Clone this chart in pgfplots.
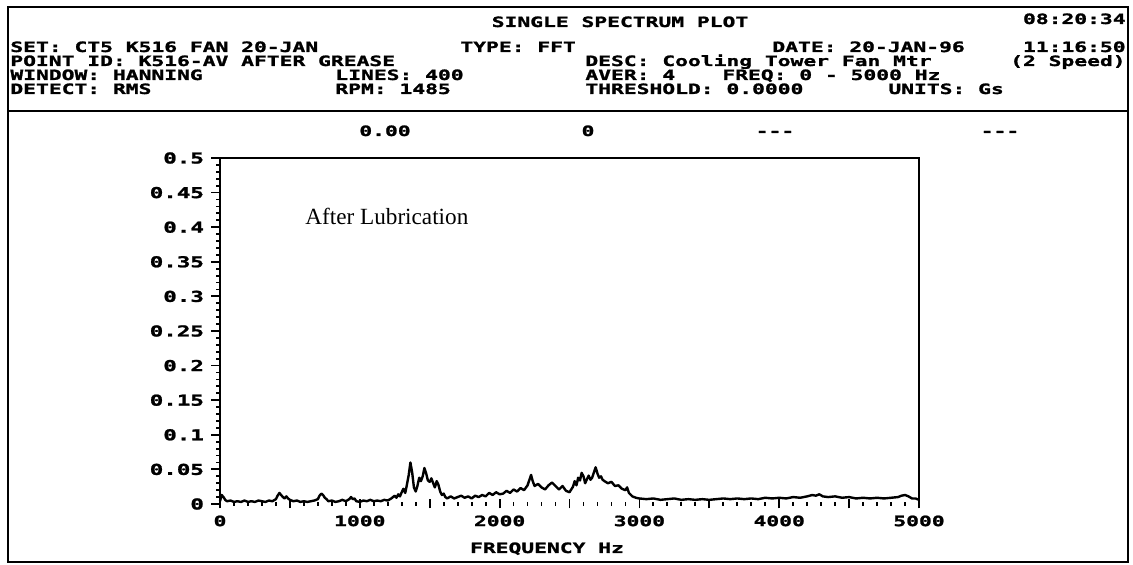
\documentclass[border=0pt]{standalone}
\usepackage{pgfplots}
\pgfplotsset{compat=1.18}
\usepackage{fontspec}
\setmainfont{Liberation Serif}
\newfontfamily\px[FakeStretch=1.5,FakeBold=1.5]{DejaVu Sans Mono}
\newcommand\hf{\px\bfseries\fontsize{7.1pt}{8pt}\selectfont}
\newcommand\tf{\px\bfseries\fontsize{7.5pt}{8pt}\selectfont}
\begin{document}
\begin{tikzpicture}
\path[use as bounding box] (0,0) rectangle (566.5pt,282.5pt);
\begin{scope}[x=0.5pt,y=-0.5pt,yshift=282.5pt]
\draw[line width=1.1pt] (8,7) rectangle (1128,562);
\draw[line width=0.9pt] (8,111) -- (1128,111);
\tikzset{h/.style={anchor=base west,inner sep=0pt,font=\hf},hr/.style={anchor=base east,inner sep=0pt,font=\hf}}
\node[anchor=base,inner sep=0pt,font=\hf] at (620,27) {SINGLE SPECTRUM PLOT};
\node[hr] at (1126,24) {08:20:34};
% row 1
\node[h] at (10,52) {SET: CT5 K516 FAN 20-JAN};
\node[h] at (460,52) {TYPE: FFT};
\node[h] at (772,52) {DATE: 20-JAN-96};
\node[hr] at (1126,52) {11:16:50};
% row 2
\node[h] at (10,66) {POINT ID: K516-AV AFTER GREASE};
\node[h] at (585,66) {DESC: Cooling Tower Fan Mtr};
\node[hr] at (1126,66) {(2 Speed)};
% row 3
\node[h] at (10,80) {WINDOW: HANNING};
\node[h] at (335,80) {LINES: 400};
\node[h] at (585,80) {AVER: 4};
\node[h] at (722,80) {FREQ: 0 - 5000 Hz};
% row 4
\node[h] at (10,94) {DETECT: RMS};
\node[h] at (335,94) {RPM: 1485};
\node[h] at (585,94) {THRESHOLD: 0.0000};
\node[h] at (888,94) {UNITS: Gs};
% label row
\node[anchor=base,inner sep=0pt,font=\hf] at (385,136) {0.00};
\node[anchor=base,inner sep=0pt,font=\hf] at (588,136) {0};
\node[anchor=base,inner sep=0pt,font=\hf] at (775,136) {---};
\node[anchor=base,inner sep=0pt,font=\hf] at (1000,136) {---};
% x label
\node[anchor=base,inner sep=0pt,font=\hf] at (547,553) {FREQUENCY Hz};
\end{scope}
\begin{axis}[
  at={(110pt,30.5pt)}, anchor=south west,
  scale only axis, width=349.5pt, height=173pt,
  xmin=0, xmax=5000, ymin=0, ymax=0.5,
  axis line style={draw=none},
  xtick={0,500,...,5000},
  xticklabels={0,,1000,,2000,,3000,,4000,,5000},
  minor x tick num=4,
  ytick={0,0.05,...,0.5},
  yticklabels={0,0.05,0.1,0.15,0.2,0.25,0.3,0.35,0.4,0.45,0.5},
  minor y tick num=4,
  xtick pos=bottom, ytick pos=left,
  xtick align=center, ytick align=outside,
  major tick length=4.5pt, minor tick length=1.8pt,
  every tick/.style={black,line width=0.9pt},
  xticklabel style={font=\hf},
  yticklabel style={font=\tf},
  /pgf/number format/assume math mode=true,
  clip=false,
]
\draw[line width=1.3pt] (rel axis cs:0,0) -- (rel axis cs:0,1) -- (rel axis cs:1,1) -- (rel axis cs:1,0);
\addplot[black, line width=1.2pt, line join=round] table {
f v
0 0.004
12 0.013
25 0.010
37 0.006
50 0.004
75 0.005
100 0.003
125 0.004
150 0.003
175 0.005
200 0.003
225 0.004
250 0.003
275 0.005
300 0.004
325 0.003
350 0.005
375 0.004
400 0.007
412 0.012
425 0.016
437 0.013
450 0.010
462 0.008
475 0.011
487 0.008
500 0.006
525 0.004
550 0.005
575 0.003
600 0.004
625 0.003
650 0.004
675 0.005
700 0.007
712 0.012
725 0.015
737 0.013
750 0.009
762 0.007
775 0.004
800 0.005
825 0.003
850 0.004
875 0.006
900 0.004
925 0.007
937 0.010
950 0.007
962 0.008
975 0.004
1000 0.003
1025 0.005
1050 0.004
1075 0.006
1100 0.004
1125 0.005
1150 0.004
1175 0.006
1200 0.005
1225 0.008
1250 0.012
1262 0.009
1275 0.014
1287 0.011
1300 0.017
1312 0.022
1325 0.016
1337 0.028
1350 0.042
1362 0.060
1375 0.045
1387 0.024
1400 0.018
1412 0.026
1425 0.038
1437 0.033
1450 0.040
1462 0.052
1475 0.044
1487 0.034
1500 0.032
1512 0.037
1525 0.030
1537 0.024
1550 0.033
1562 0.028
1575 0.018
1587 0.013
1600 0.015
1612 0.010
1625 0.008
1650 0.011
1675 0.008
1700 0.010
1725 0.012
1750 0.009
1775 0.011
1800 0.008
1825 0.012
1850 0.010
1875 0.013
1900 0.011
1925 0.016
1950 0.013
1975 0.017
2000 0.014
2025 0.015
2050 0.019
2075 0.016
2100 0.021
2125 0.018
2150 0.023
2175 0.020
2200 0.027
2225 0.042
2237 0.033
2250 0.026
2275 0.029
2300 0.024
2325 0.021
2350 0.027
2375 0.031
2400 0.026
2425 0.021
2450 0.026
2475 0.019
2500 0.017
2525 0.025
2537 0.033
2550 0.027
2562 0.038
2575 0.034
2587 0.045
2600 0.040
2612 0.030
2625 0.036
2637 0.041
2650 0.035
2662 0.038
2675 0.046
2687 0.053
2700 0.044
2712 0.038
2725 0.040
2737 0.035
2750 0.033
2775 0.030
2800 0.032
2825 0.026
2850 0.027
2875 0.022
2900 0.020
2912 0.024
2925 0.016
2950 0.011
2975 0.009
3000 0.008
3050 0.007
3100 0.008
3150 0.006
3200 0.007
3250 0.008
3300 0.006
3350 0.007
3400 0.006
3450 0.007
3500 0.006
3550 0.007
3600 0.008
3650 0.007
3700 0.008
3750 0.007
3800 0.008
3850 0.007
3900 0.009
3950 0.008
4000 0.009
4050 0.008
4100 0.010
4150 0.009
4200 0.011
4237 0.013
4262 0.012
4287 0.014
4312 0.011
4350 0.010
4400 0.011
4450 0.009
4500 0.010
4550 0.008
4600 0.009
4650 0.008
4700 0.009
4750 0.008
4800 0.009
4850 0.010
4875 0.012
4900 0.013
4925 0.011
4950 0.008
4975 0.008
5000 0.006
};
\node[anchor=west,inner sep=0pt,font=\fontsize{11.6pt}{13pt}\selectfont] at (axis cs:608,0.415) {After Lubrication};
\end{axis}
\end{tikzpicture}
\end{document}
